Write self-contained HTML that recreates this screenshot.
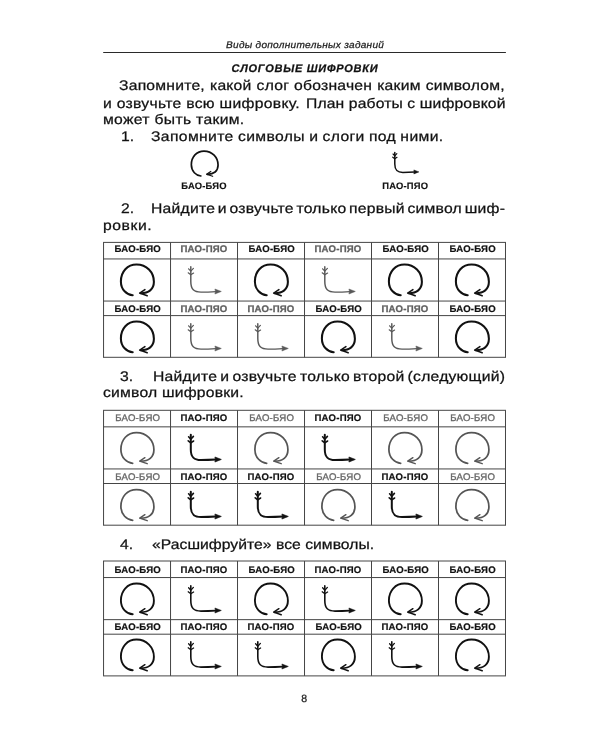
<!DOCTYPE html>
<html lang="ru"><head><meta charset="utf-8"><title>p8</title>
<style>
html,body{margin:0;padding:0;background:#fff}
body{width:600px;height:750px;position:relative;overflow:hidden;font-family:"Liberation Sans", sans-serif;filter:grayscale(1);text-rendering:geometricPrecision}
.t{position:absolute;white-space:nowrap;line-height:1em;transform-origin:0 0;-webkit-text-stroke:0.25px currentColor}
.lb{position:absolute;white-space:nowrap;line-height:1em;text-align:center;letter-spacing:0.20px}
.grid{position:absolute;left:0;top:0}
.ln{position:absolute;background:#454545}
.ic{position:absolute;overflow:visible}
</style></head><body>
<div class="t" id="t0" style="left:225.60px;top:41.37px;font-size:9.60px;font-style:italic;font-weight:normal;color:#222;letter-spacing:0.271px;word-spacing:0.000px;transform:scaleX(1.0500)">Виды дополнительных заданий</div>
<div class="t" id="t1" style="left:231.60px;top:63.69px;font-size:11.00px;font-style:italic;font-weight:bold;color:#111;letter-spacing:0.733px;word-spacing:0.000px;transform:scaleX(1.0000)">СЛОГОВЫЕ ШИФРОВКИ</div>
<div class="t" id="t2" style="left:119.00px;top:78.73px;font-size:13.90px;font-style:normal;font-weight:normal;color:#111;letter-spacing:0.191px;word-spacing:0.409px;transform:scaleX(1.1300)">Запомните, какой слог обозначен каким символом,</div>
<div class="t" id="t3" style="left:102.90px;top:97.03px;font-size:13.90px;font-style:normal;font-weight:normal;color:#111;letter-spacing:0.264px;word-spacing:0.000px;transform:scaleX(1.1300)">и озвучьте всю шифровку.</div>
<div class="t" id="t4" style="left:102.90px;top:112.73px;font-size:13.90px;font-style:normal;font-weight:normal;color:#111;letter-spacing:0.281px;word-spacing:0.000px;transform:scaleX(1.1300)">может быть таким.</div>
<div class="t" id="t5" style="left:120.79px;top:130.23px;font-size:13.90px;font-style:normal;font-weight:normal;color:#111;letter-spacing:0.000px;word-spacing:0.000px;transform:scaleX(1.1300)">1.</div>
<div class="t" id="t6" style="left:151.40px;top:130.23px;font-size:13.90px;font-style:normal;font-weight:normal;color:#111;letter-spacing:0.323px;word-spacing:-0.427px;transform:scaleX(1.1300)">Запомните символы и слоги под ними.</div>
<div class="t" id="t7" style="left:120.60px;top:202.43px;font-size:13.90px;font-style:normal;font-weight:normal;color:#111;letter-spacing:0.000px;word-spacing:0.000px;transform:scaleX(1.1300)">2.</div>
<div class="t" id="t8" style="left:151.34px;top:202.43px;font-size:13.90px;font-style:normal;font-weight:normal;color:#111;letter-spacing:0.200px;word-spacing:-1.653px;transform:scaleX(1.1300)">Найдите и озвучьте только первый символ шиф-</div>
<div class="t" id="t9" style="left:102.99px;top:219.23px;font-size:13.90px;font-style:normal;font-weight:normal;color:#111;letter-spacing:0.490px;word-spacing:0.000px;transform:scaleX(1.1300)">ровки.</div>
<div class="t" id="t10" style="left:120.00px;top:369.83px;font-size:13.90px;font-style:normal;font-weight:normal;color:#111;letter-spacing:0.000px;word-spacing:0.000px;transform:scaleX(1.1300)">3.</div>
<div class="t" id="t11" style="left:152.54px;top:369.83px;font-size:13.90px;font-style:normal;font-weight:normal;color:#111;letter-spacing:0.200px;word-spacing:-1.213px;transform:scaleX(1.1300)">Найдите и озвучьте только второй (следующий)</div>
<div class="t" id="t12" style="left:103.46px;top:385.73px;font-size:13.90px;font-style:normal;font-weight:normal;color:#111;letter-spacing:0.179px;word-spacing:0.000px;transform:scaleX(1.1300)">символ шифровки.</div>
<div class="t" id="t13" style="left:120.24px;top:538.13px;font-size:13.90px;font-style:normal;font-weight:normal;color:#111;letter-spacing:0.000px;word-spacing:0.000px;transform:scaleX(1.1300)">4.</div>
<div class="t" id="t14" style="left:151.60px;top:538.13px;font-size:13.90px;font-style:normal;font-weight:normal;color:#111;letter-spacing:0.027px;word-spacing:0.000px;transform:scaleX(1.1300)">«Расшифруйте» все символы.</div>
<div class="t" id="t15" style="left:301.30px;top:693.91px;font-size:10.50px;font-style:normal;font-weight:normal;color:#222;letter-spacing:0.000px;word-spacing:0.000px;transform:scaleX(1.0000)">8</div>
<div class="t" id="t16" style="left:305.75px;top:97.03px;font-size:13.90px;font-style:normal;font-weight:normal;color:#111;letter-spacing:0.110px;word-spacing:0.000px;transform:scaleX(1.1300)">План работы с шифровкой</div>
<svg class="grid" width="600" height="750" viewBox="0 0 600 750"><line x1="103.2" y1="52.4" x2="505.9" y2="52.4" stroke="#2a2a2a" stroke-width="1.05"/></svg>
<svg class="ic" style="left:188.98px;top:149.38px" width="32.4" height="30.8" viewBox="-2 -2 40 38"><g fill="none" stroke="#111" stroke-width="2.10" stroke-linecap="round" stroke-linejoin="round"><path d="M12.7,31.3 C6.8,30.9 0.9,25.6 0.9,17.4 C0.9,7.6 7.5,0.5 16.5,0.5 C26.6,0.5 33.9,8.2 33.9,17.8 C33.9,25.4 28.6,29.3 20.6,29.2"/><path d="M24.9,25.7 L19.7,29.1 L27.2,31.7" stroke-width="1.48"/></g></svg>
<svg class="ic" style="left:390.92px;top:150.52px" width="30.0" height="25.3" viewBox="-2 -2 38 32"><g fill="none" stroke="#111" stroke-width="1.90" stroke-linecap="round" stroke-linejoin="round"><path d="M2.8,-0.2 L2.8,14.5 C2.8,22.5 6,25.1 13,25.1 C18,25.1 23,24.9 28,24.6"/><path d="M0.6,1.8 L2.8,4.2 L5.4,1.4" stroke-width="1.52"/><path d="M0.2,5.8 L2.8,7.8 L5.6,6.0" stroke-width="1.52"/></g><path d="M33.3,24.45 L26.9,22.0 L27.5,24.5 L26.9,27.0 Z" fill="#111" stroke="#111" stroke-width="0.66" stroke-linejoin="round"/></svg>
<div class="lb" id="lg1" style="left:160.5px;top:181.24px;width:87px;font-size:9.4px;font-weight:bold;color:#111;-webkit-text-stroke:0.15px #111">БАО-БЯО</div>
<div class="lb" id="lg2" style="left:361.7px;top:181.24px;width:87px;font-size:9.4px;font-weight:bold;color:#111;-webkit-text-stroke:0.15px #111">ПАО-ПЯО</div>
<svg class="grid" width="600" height="750" viewBox="0 0 600 750"><g stroke="#454545" stroke-width="1.00" fill="none"><line x1="103.05" y1="242.40" x2="505.99" y2="242.40"/><line x1="103.05" y1="258.95" x2="505.99" y2="258.95"/><line x1="103.05" y1="301.05" x2="505.99" y2="301.05"/><line x1="103.05" y1="315.60" x2="505.99" y2="315.60"/><line x1="103.05" y1="357.30" x2="505.99" y2="357.30"/><line x1="103.55" y1="242.40" x2="103.55" y2="357.30"/><line x1="170.54" y1="242.40" x2="170.54" y2="357.30"/><line x1="237.53" y1="242.40" x2="237.53" y2="357.30"/><line x1="304.52" y1="242.40" x2="304.52" y2="357.30"/><line x1="371.51" y1="242.40" x2="371.51" y2="357.30"/><line x1="438.50" y1="242.40" x2="438.50" y2="357.30"/><line x1="505.49" y1="242.40" x2="505.49" y2="357.30"/></g></svg>
<div class="lb" style="left:104.25px;top:244.62px;width:66.99px;font-size:9.60px;color:#111;font-weight:bold;-webkit-text-stroke:0.20px #111">БАО-БЯО</div>
<svg class="ic" style="left:118.24px;top:262.30px" width="40.0" height="38.0" viewBox="-2 -2 40 38"><g fill="none" stroke="#111" stroke-width="2.05" stroke-linecap="round" stroke-linejoin="round"><path d="M12.7,31.3 C6.8,30.9 0.9,25.6 0.9,17.4 C0.9,7.6 7.5,0.5 16.5,0.5 C26.6,0.5 33.9,8.2 33.9,17.8 C33.9,25.4 28.6,29.3 20.6,29.2"/><path d="M24.9,25.7 L19.7,29.1 L27.2,31.7" stroke-width="1.60"/></g></svg>
<div class="lb" style="left:170.54px;top:244.62px;width:66.99px;font-size:9.60px;color:#606060;font-weight:bold;-webkit-text-stroke:0.30px #606060">ПАО-ПЯО</div>
<svg class="ic" style="left:185.63px;top:265.30px" width="38.0" height="32.0" viewBox="-2 -2 38 32"><g fill="none" stroke="#585858" stroke-width="1.45" stroke-linecap="round" stroke-linejoin="round"><path d="M2.8,-0.2 L2.8,14.5 C2.8,22.5 6,25.1 13,25.1 C18,25.1 23,24.9 28,24.6"/><path d="M0.6,1.8 L2.8,4.2 L5.4,1.4" stroke-width="1.16"/><path d="M0.2,5.8 L2.8,7.8 L5.6,6.0" stroke-width="1.16"/></g><path d="M33.3,24.45 L26.9,22.0 L27.5,24.5 L26.9,27.0 Z" fill="#585858" stroke="#585858" stroke-width="0.51" stroke-linejoin="round"/></svg>
<div class="lb" style="left:238.23px;top:244.62px;width:66.99px;font-size:9.60px;color:#111;font-weight:bold;-webkit-text-stroke:0.20px #111">БАО-БЯО</div>
<svg class="ic" style="left:252.22px;top:262.30px" width="40.0" height="38.0" viewBox="-2 -2 40 38"><g fill="none" stroke="#111" stroke-width="2.05" stroke-linecap="round" stroke-linejoin="round"><path d="M12.7,31.3 C6.8,30.9 0.9,25.6 0.9,17.4 C0.9,7.6 7.5,0.5 16.5,0.5 C26.6,0.5 33.9,8.2 33.9,17.8 C33.9,25.4 28.6,29.3 20.6,29.2"/><path d="M24.9,25.7 L19.7,29.1 L27.2,31.7" stroke-width="1.60"/></g></svg>
<div class="lb" style="left:304.52px;top:244.62px;width:66.99px;font-size:9.60px;color:#606060;font-weight:bold;-webkit-text-stroke:0.30px #606060">ПАО-ПЯО</div>
<svg class="ic" style="left:319.62px;top:265.30px" width="38.0" height="32.0" viewBox="-2 -2 38 32"><g fill="none" stroke="#585858" stroke-width="1.45" stroke-linecap="round" stroke-linejoin="round"><path d="M2.8,-0.2 L2.8,14.5 C2.8,22.5 6,25.1 13,25.1 C18,25.1 23,24.9 28,24.6"/><path d="M0.6,1.8 L2.8,4.2 L5.4,1.4" stroke-width="1.16"/><path d="M0.2,5.8 L2.8,7.8 L5.6,6.0" stroke-width="1.16"/></g><path d="M33.3,24.45 L26.9,22.0 L27.5,24.5 L26.9,27.0 Z" fill="#585858" stroke="#585858" stroke-width="0.51" stroke-linejoin="round"/></svg>
<div class="lb" style="left:372.21px;top:244.62px;width:66.99px;font-size:9.60px;color:#111;font-weight:bold;-webkit-text-stroke:0.20px #111">БАО-БЯО</div>
<svg class="ic" style="left:386.20px;top:262.30px" width="40.0" height="38.0" viewBox="-2 -2 40 38"><g fill="none" stroke="#111" stroke-width="2.05" stroke-linecap="round" stroke-linejoin="round"><path d="M12.7,31.3 C6.8,30.9 0.9,25.6 0.9,17.4 C0.9,7.6 7.5,0.5 16.5,0.5 C26.6,0.5 33.9,8.2 33.9,17.8 C33.9,25.4 28.6,29.3 20.6,29.2"/><path d="M24.9,25.7 L19.7,29.1 L27.2,31.7" stroke-width="1.60"/></g></svg>
<div class="lb" style="left:439.20px;top:244.62px;width:66.99px;font-size:9.60px;color:#111;font-weight:bold;-webkit-text-stroke:0.20px #111">БАО-БЯО</div>
<svg class="ic" style="left:453.19px;top:262.30px" width="40.0" height="38.0" viewBox="-2 -2 40 38"><g fill="none" stroke="#111" stroke-width="2.05" stroke-linecap="round" stroke-linejoin="round"><path d="M12.7,31.3 C6.8,30.9 0.9,25.6 0.9,17.4 C0.9,7.6 7.5,0.5 16.5,0.5 C26.6,0.5 33.9,8.2 33.9,17.8 C33.9,25.4 28.6,29.3 20.6,29.2"/><path d="M24.9,25.7 L19.7,29.1 L27.2,31.7" stroke-width="1.60"/></g></svg>
<div class="lb" style="left:104.25px;top:304.62px;width:66.99px;font-size:9.60px;color:#111;font-weight:bold;-webkit-text-stroke:0.20px #111">БАО-БЯО</div>
<svg class="ic" style="left:118.24px;top:318.75px" width="40.0" height="38.0" viewBox="-2 -2 40 38"><g fill="none" stroke="#111" stroke-width="2.05" stroke-linecap="round" stroke-linejoin="round"><path d="M12.7,31.3 C6.8,30.9 0.9,25.6 0.9,17.4 C0.9,7.6 7.5,0.5 16.5,0.5 C26.6,0.5 33.9,8.2 33.9,17.8 C33.9,25.4 28.6,29.3 20.6,29.2"/><path d="M24.9,25.7 L19.7,29.1 L27.2,31.7" stroke-width="1.60"/></g></svg>
<div class="lb" style="left:170.54px;top:304.62px;width:66.99px;font-size:9.60px;color:#606060;font-weight:bold;-webkit-text-stroke:0.30px #606060">ПАО-ПЯО</div>
<svg class="ic" style="left:185.63px;top:321.75px" width="38.0" height="32.0" viewBox="-2 -2 38 32"><g fill="none" stroke="#585858" stroke-width="1.45" stroke-linecap="round" stroke-linejoin="round"><path d="M2.8,-0.2 L2.8,14.5 C2.8,22.5 6,25.1 13,25.1 C18,25.1 23,24.9 28,24.6"/><path d="M0.6,1.8 L2.8,4.2 L5.4,1.4" stroke-width="1.16"/><path d="M0.2,5.8 L2.8,7.8 L5.6,6.0" stroke-width="1.16"/></g><path d="M33.3,24.45 L26.9,22.0 L27.5,24.5 L26.9,27.0 Z" fill="#585858" stroke="#585858" stroke-width="0.51" stroke-linejoin="round"/></svg>
<div class="lb" style="left:237.53px;top:304.62px;width:66.99px;font-size:9.60px;color:#606060;font-weight:bold;-webkit-text-stroke:0.30px #606060">ПАО-ПЯО</div>
<svg class="ic" style="left:252.62px;top:321.75px" width="38.0" height="32.0" viewBox="-2 -2 38 32"><g fill="none" stroke="#585858" stroke-width="1.45" stroke-linecap="round" stroke-linejoin="round"><path d="M2.8,-0.2 L2.8,14.5 C2.8,22.5 6,25.1 13,25.1 C18,25.1 23,24.9 28,24.6"/><path d="M0.6,1.8 L2.8,4.2 L5.4,1.4" stroke-width="1.16"/><path d="M0.2,5.8 L2.8,7.8 L5.6,6.0" stroke-width="1.16"/></g><path d="M33.3,24.45 L26.9,22.0 L27.5,24.5 L26.9,27.0 Z" fill="#585858" stroke="#585858" stroke-width="0.51" stroke-linejoin="round"/></svg>
<div class="lb" style="left:305.22px;top:304.62px;width:66.99px;font-size:9.60px;color:#111;font-weight:bold;-webkit-text-stroke:0.20px #111">БАО-БЯО</div>
<svg class="ic" style="left:319.21px;top:318.75px" width="40.0" height="38.0" viewBox="-2 -2 40 38"><g fill="none" stroke="#111" stroke-width="2.05" stroke-linecap="round" stroke-linejoin="round"><path d="M12.7,31.3 C6.8,30.9 0.9,25.6 0.9,17.4 C0.9,7.6 7.5,0.5 16.5,0.5 C26.6,0.5 33.9,8.2 33.9,17.8 C33.9,25.4 28.6,29.3 20.6,29.2"/><path d="M24.9,25.7 L19.7,29.1 L27.2,31.7" stroke-width="1.60"/></g></svg>
<div class="lb" style="left:371.51px;top:304.62px;width:66.99px;font-size:9.60px;color:#606060;font-weight:bold;-webkit-text-stroke:0.30px #606060">ПАО-ПЯО</div>
<svg class="ic" style="left:386.61px;top:321.75px" width="38.0" height="32.0" viewBox="-2 -2 38 32"><g fill="none" stroke="#585858" stroke-width="1.45" stroke-linecap="round" stroke-linejoin="round"><path d="M2.8,-0.2 L2.8,14.5 C2.8,22.5 6,25.1 13,25.1 C18,25.1 23,24.9 28,24.6"/><path d="M0.6,1.8 L2.8,4.2 L5.4,1.4" stroke-width="1.16"/><path d="M0.2,5.8 L2.8,7.8 L5.6,6.0" stroke-width="1.16"/></g><path d="M33.3,24.45 L26.9,22.0 L27.5,24.5 L26.9,27.0 Z" fill="#585858" stroke="#585858" stroke-width="0.51" stroke-linejoin="round"/></svg>
<div class="lb" style="left:439.20px;top:304.62px;width:66.99px;font-size:9.60px;color:#111;font-weight:bold;-webkit-text-stroke:0.20px #111">БАО-БЯО</div>
<svg class="ic" style="left:453.19px;top:318.75px" width="40.0" height="38.0" viewBox="-2 -2 40 38"><g fill="none" stroke="#111" stroke-width="2.05" stroke-linecap="round" stroke-linejoin="round"><path d="M12.7,31.3 C6.8,30.9 0.9,25.6 0.9,17.4 C0.9,7.6 7.5,0.5 16.5,0.5 C26.6,0.5 33.9,8.2 33.9,17.8 C33.9,25.4 28.6,29.3 20.6,29.2"/><path d="M24.9,25.7 L19.7,29.1 L27.2,31.7" stroke-width="1.60"/></g></svg>
<svg class="grid" width="600" height="750" viewBox="0 0 600 750"><g stroke="#454545" stroke-width="1.00" fill="none"><line x1="103.05" y1="410.30" x2="505.99" y2="410.30"/><line x1="103.05" y1="426.85" x2="505.99" y2="426.85"/><line x1="103.05" y1="468.95" x2="505.99" y2="468.95"/><line x1="103.05" y1="483.50" x2="505.99" y2="483.50"/><line x1="103.05" y1="525.20" x2="505.99" y2="525.20"/><line x1="103.55" y1="410.30" x2="103.55" y2="525.20"/><line x1="170.54" y1="410.30" x2="170.54" y2="525.20"/><line x1="237.53" y1="410.30" x2="237.53" y2="525.20"/><line x1="304.52" y1="410.30" x2="304.52" y2="525.20"/><line x1="371.51" y1="410.30" x2="371.51" y2="525.20"/><line x1="438.50" y1="410.30" x2="438.50" y2="525.20"/><line x1="505.49" y1="410.30" x2="505.49" y2="525.20"/></g></svg>
<div class="lb" style="left:104.25px;top:413.62px;width:66.99px;font-size:9.60px;color:#686868;font-weight:normal;-webkit-text-stroke:0.35px #686868">БАО-БЯО</div>
<svg class="ic" style="left:118.24px;top:430.20px" width="40.0" height="38.0" viewBox="-2 -2 40 38"><g fill="none" stroke="#555" stroke-width="1.75" stroke-linecap="round" stroke-linejoin="round"><path d="M12.7,31.3 C6.8,30.9 0.9,25.6 0.9,17.4 C0.9,7.6 7.5,0.5 16.5,0.5 C26.6,0.5 33.9,8.2 33.9,17.8 C33.9,25.4 28.6,29.3 20.6,29.2"/><path d="M24.9,25.7 L19.7,29.1 L27.2,31.7" stroke-width="1.40"/></g></svg>
<div class="lb" style="left:170.54px;top:413.62px;width:66.99px;font-size:9.60px;color:#111;font-weight:bold;-webkit-text-stroke:0.20px #111">ПАО-ПЯО</div>
<svg class="ic" style="left:185.63px;top:433.20px" width="38.0" height="32.0" viewBox="-2 -2 38 32"><g fill="none" stroke="#111" stroke-width="2.00" stroke-linecap="round" stroke-linejoin="round"><path d="M2.8,-0.2 L2.8,14.5 C2.8,22.5 6,25.1 13,25.1 C18,25.1 23,24.9 28,24.6"/><path d="M0.6,1.8 L2.8,4.2 L5.4,1.4" stroke-width="1.60"/><path d="M0.2,5.8 L2.8,7.8 L5.6,6.0" stroke-width="1.60"/></g><path d="M33.3,24.45 L26.9,22.0 L27.5,24.5 L26.9,27.0 Z" fill="#111" stroke="#111" stroke-width="0.70" stroke-linejoin="round"/></svg>
<div class="lb" style="left:238.23px;top:413.62px;width:66.99px;font-size:9.60px;color:#686868;font-weight:normal;-webkit-text-stroke:0.35px #686868">БАО-БЯО</div>
<svg class="ic" style="left:252.22px;top:430.20px" width="40.0" height="38.0" viewBox="-2 -2 40 38"><g fill="none" stroke="#555" stroke-width="1.75" stroke-linecap="round" stroke-linejoin="round"><path d="M12.7,31.3 C6.8,30.9 0.9,25.6 0.9,17.4 C0.9,7.6 7.5,0.5 16.5,0.5 C26.6,0.5 33.9,8.2 33.9,17.8 C33.9,25.4 28.6,29.3 20.6,29.2"/><path d="M24.9,25.7 L19.7,29.1 L27.2,31.7" stroke-width="1.40"/></g></svg>
<div class="lb" style="left:304.52px;top:413.62px;width:66.99px;font-size:9.60px;color:#111;font-weight:bold;-webkit-text-stroke:0.20px #111">ПАО-ПЯО</div>
<svg class="ic" style="left:319.62px;top:433.20px" width="38.0" height="32.0" viewBox="-2 -2 38 32"><g fill="none" stroke="#111" stroke-width="2.00" stroke-linecap="round" stroke-linejoin="round"><path d="M2.8,-0.2 L2.8,14.5 C2.8,22.5 6,25.1 13,25.1 C18,25.1 23,24.9 28,24.6"/><path d="M0.6,1.8 L2.8,4.2 L5.4,1.4" stroke-width="1.60"/><path d="M0.2,5.8 L2.8,7.8 L5.6,6.0" stroke-width="1.60"/></g><path d="M33.3,24.45 L26.9,22.0 L27.5,24.5 L26.9,27.0 Z" fill="#111" stroke="#111" stroke-width="0.70" stroke-linejoin="round"/></svg>
<div class="lb" style="left:372.21px;top:413.62px;width:66.99px;font-size:9.60px;color:#686868;font-weight:normal;-webkit-text-stroke:0.35px #686868">БАО-БЯО</div>
<svg class="ic" style="left:386.20px;top:430.20px" width="40.0" height="38.0" viewBox="-2 -2 40 38"><g fill="none" stroke="#555" stroke-width="1.75" stroke-linecap="round" stroke-linejoin="round"><path d="M12.7,31.3 C6.8,30.9 0.9,25.6 0.9,17.4 C0.9,7.6 7.5,0.5 16.5,0.5 C26.6,0.5 33.9,8.2 33.9,17.8 C33.9,25.4 28.6,29.3 20.6,29.2"/><path d="M24.9,25.7 L19.7,29.1 L27.2,31.7" stroke-width="1.40"/></g></svg>
<div class="lb" style="left:439.20px;top:413.62px;width:66.99px;font-size:9.60px;color:#686868;font-weight:normal;-webkit-text-stroke:0.35px #686868">БАО-БЯО</div>
<svg class="ic" style="left:453.19px;top:430.20px" width="40.0" height="38.0" viewBox="-2 -2 40 38"><g fill="none" stroke="#555" stroke-width="1.75" stroke-linecap="round" stroke-linejoin="round"><path d="M12.7,31.3 C6.8,30.9 0.9,25.6 0.9,17.4 C0.9,7.6 7.5,0.5 16.5,0.5 C26.6,0.5 33.9,8.2 33.9,17.8 C33.9,25.4 28.6,29.3 20.6,29.2"/><path d="M24.9,25.7 L19.7,29.1 L27.2,31.7" stroke-width="1.40"/></g></svg>
<div class="lb" style="left:104.25px;top:472.62px;width:66.99px;font-size:9.60px;color:#686868;font-weight:normal;-webkit-text-stroke:0.35px #686868">БАО-БЯО</div>
<svg class="ic" style="left:118.24px;top:486.65px" width="40.0" height="38.0" viewBox="-2 -2 40 38"><g fill="none" stroke="#555" stroke-width="1.75" stroke-linecap="round" stroke-linejoin="round"><path d="M12.7,31.3 C6.8,30.9 0.9,25.6 0.9,17.4 C0.9,7.6 7.5,0.5 16.5,0.5 C26.6,0.5 33.9,8.2 33.9,17.8 C33.9,25.4 28.6,29.3 20.6,29.2"/><path d="M24.9,25.7 L19.7,29.1 L27.2,31.7" stroke-width="1.40"/></g></svg>
<div class="lb" style="left:170.54px;top:472.62px;width:66.99px;font-size:9.60px;color:#111;font-weight:bold;-webkit-text-stroke:0.20px #111">ПАО-ПЯО</div>
<svg class="ic" style="left:185.63px;top:489.65px" width="38.0" height="32.0" viewBox="-2 -2 38 32"><g fill="none" stroke="#111" stroke-width="2.00" stroke-linecap="round" stroke-linejoin="round"><path d="M2.8,-0.2 L2.8,14.5 C2.8,22.5 6,25.1 13,25.1 C18,25.1 23,24.9 28,24.6"/><path d="M0.6,1.8 L2.8,4.2 L5.4,1.4" stroke-width="1.60"/><path d="M0.2,5.8 L2.8,7.8 L5.6,6.0" stroke-width="1.60"/></g><path d="M33.3,24.45 L26.9,22.0 L27.5,24.5 L26.9,27.0 Z" fill="#111" stroke="#111" stroke-width="0.70" stroke-linejoin="round"/></svg>
<div class="lb" style="left:237.53px;top:472.62px;width:66.99px;font-size:9.60px;color:#111;font-weight:bold;-webkit-text-stroke:0.20px #111">ПАО-ПЯО</div>
<svg class="ic" style="left:252.62px;top:489.65px" width="38.0" height="32.0" viewBox="-2 -2 38 32"><g fill="none" stroke="#111" stroke-width="2.00" stroke-linecap="round" stroke-linejoin="round"><path d="M2.8,-0.2 L2.8,14.5 C2.8,22.5 6,25.1 13,25.1 C18,25.1 23,24.9 28,24.6"/><path d="M0.6,1.8 L2.8,4.2 L5.4,1.4" stroke-width="1.60"/><path d="M0.2,5.8 L2.8,7.8 L5.6,6.0" stroke-width="1.60"/></g><path d="M33.3,24.45 L26.9,22.0 L27.5,24.5 L26.9,27.0 Z" fill="#111" stroke="#111" stroke-width="0.70" stroke-linejoin="round"/></svg>
<div class="lb" style="left:305.22px;top:472.62px;width:66.99px;font-size:9.60px;color:#686868;font-weight:normal;-webkit-text-stroke:0.35px #686868">БАО-БЯО</div>
<svg class="ic" style="left:319.21px;top:486.65px" width="40.0" height="38.0" viewBox="-2 -2 40 38"><g fill="none" stroke="#555" stroke-width="1.75" stroke-linecap="round" stroke-linejoin="round"><path d="M12.7,31.3 C6.8,30.9 0.9,25.6 0.9,17.4 C0.9,7.6 7.5,0.5 16.5,0.5 C26.6,0.5 33.9,8.2 33.9,17.8 C33.9,25.4 28.6,29.3 20.6,29.2"/><path d="M24.9,25.7 L19.7,29.1 L27.2,31.7" stroke-width="1.40"/></g></svg>
<div class="lb" style="left:371.51px;top:472.62px;width:66.99px;font-size:9.60px;color:#111;font-weight:bold;-webkit-text-stroke:0.20px #111">ПАО-ПЯО</div>
<svg class="ic" style="left:386.61px;top:489.65px" width="38.0" height="32.0" viewBox="-2 -2 38 32"><g fill="none" stroke="#111" stroke-width="2.00" stroke-linecap="round" stroke-linejoin="round"><path d="M2.8,-0.2 L2.8,14.5 C2.8,22.5 6,25.1 13,25.1 C18,25.1 23,24.9 28,24.6"/><path d="M0.6,1.8 L2.8,4.2 L5.4,1.4" stroke-width="1.60"/><path d="M0.2,5.8 L2.8,7.8 L5.6,6.0" stroke-width="1.60"/></g><path d="M33.3,24.45 L26.9,22.0 L27.5,24.5 L26.9,27.0 Z" fill="#111" stroke="#111" stroke-width="0.70" stroke-linejoin="round"/></svg>
<div class="lb" style="left:439.20px;top:472.62px;width:66.99px;font-size:9.60px;color:#686868;font-weight:normal;-webkit-text-stroke:0.35px #686868">БАО-БЯО</div>
<svg class="ic" style="left:453.19px;top:486.65px" width="40.0" height="38.0" viewBox="-2 -2 40 38"><g fill="none" stroke="#555" stroke-width="1.75" stroke-linecap="round" stroke-linejoin="round"><path d="M12.7,31.3 C6.8,30.9 0.9,25.6 0.9,17.4 C0.9,7.6 7.5,0.5 16.5,0.5 C26.6,0.5 33.9,8.2 33.9,17.8 C33.9,25.4 28.6,29.3 20.6,29.2"/><path d="M24.9,25.7 L19.7,29.1 L27.2,31.7" stroke-width="1.40"/></g></svg>
<svg class="grid" width="600" height="750" viewBox="0 0 600 750"><g stroke="#454545" stroke-width="1.00" fill="none"><line x1="103.05" y1="561.00" x2="505.99" y2="561.00"/><line x1="103.05" y1="577.55" x2="505.99" y2="577.55"/><line x1="103.05" y1="619.65" x2="505.99" y2="619.65"/><line x1="103.05" y1="634.20" x2="505.99" y2="634.20"/><line x1="103.05" y1="675.90" x2="505.99" y2="675.90"/><line x1="103.55" y1="561.00" x2="103.55" y2="675.90"/><line x1="170.54" y1="561.00" x2="170.54" y2="675.90"/><line x1="237.53" y1="561.00" x2="237.53" y2="675.90"/><line x1="304.52" y1="561.00" x2="304.52" y2="675.90"/><line x1="371.51" y1="561.00" x2="371.51" y2="675.90"/><line x1="438.50" y1="561.00" x2="438.50" y2="675.90"/><line x1="505.49" y1="561.00" x2="505.49" y2="675.90"/></g></svg>
<div class="lb" style="left:104.25px;top:565.62px;width:66.99px;font-size:9.60px;color:#111;font-weight:bold;-webkit-text-stroke:0.20px #111">БАО-БЯО</div>
<svg class="ic" style="left:118.24px;top:580.90px" width="40.0" height="38.0" viewBox="-2 -2 40 38"><g fill="none" stroke="#111" stroke-width="1.90" stroke-linecap="round" stroke-linejoin="round"><path d="M12.7,31.3 C6.8,30.9 0.9,25.6 0.9,17.4 C0.9,7.6 7.5,0.5 16.5,0.5 C26.6,0.5 33.9,8.2 33.9,17.8 C33.9,25.4 28.6,29.3 20.6,29.2"/><path d="M24.9,25.7 L19.7,29.1 L27.2,31.7" stroke-width="1.50"/></g></svg>
<div class="lb" style="left:170.54px;top:565.62px;width:66.99px;font-size:9.60px;color:#111;font-weight:bold;-webkit-text-stroke:0.20px #111">ПАО-ПЯО</div>
<svg class="ic" style="left:185.63px;top:583.90px" width="38.0" height="32.0" viewBox="-2 -2 38 32"><g fill="none" stroke="#111" stroke-width="1.60" stroke-linecap="round" stroke-linejoin="round"><path d="M2.8,-0.2 L2.8,14.5 C2.8,22.5 6,25.1 13,25.1 C18,25.1 23,24.9 28,24.6"/><path d="M0.6,1.8 L2.8,4.2 L5.4,1.4" stroke-width="1.28"/><path d="M0.2,5.8 L2.8,7.8 L5.6,6.0" stroke-width="1.28"/></g><path d="M33.3,24.45 L26.9,22.0 L27.5,24.5 L26.9,27.0 Z" fill="#111" stroke="#111" stroke-width="0.56" stroke-linejoin="round"/></svg>
<div class="lb" style="left:238.23px;top:565.62px;width:66.99px;font-size:9.60px;color:#111;font-weight:bold;-webkit-text-stroke:0.20px #111">БАО-БЯО</div>
<svg class="ic" style="left:252.22px;top:580.90px" width="40.0" height="38.0" viewBox="-2 -2 40 38"><g fill="none" stroke="#111" stroke-width="1.90" stroke-linecap="round" stroke-linejoin="round"><path d="M12.7,31.3 C6.8,30.9 0.9,25.6 0.9,17.4 C0.9,7.6 7.5,0.5 16.5,0.5 C26.6,0.5 33.9,8.2 33.9,17.8 C33.9,25.4 28.6,29.3 20.6,29.2"/><path d="M24.9,25.7 L19.7,29.1 L27.2,31.7" stroke-width="1.50"/></g></svg>
<div class="lb" style="left:304.52px;top:565.62px;width:66.99px;font-size:9.60px;color:#111;font-weight:bold;-webkit-text-stroke:0.20px #111">ПАО-ПЯО</div>
<svg class="ic" style="left:319.62px;top:583.90px" width="38.0" height="32.0" viewBox="-2 -2 38 32"><g fill="none" stroke="#111" stroke-width="1.60" stroke-linecap="round" stroke-linejoin="round"><path d="M2.8,-0.2 L2.8,14.5 C2.8,22.5 6,25.1 13,25.1 C18,25.1 23,24.9 28,24.6"/><path d="M0.6,1.8 L2.8,4.2 L5.4,1.4" stroke-width="1.28"/><path d="M0.2,5.8 L2.8,7.8 L5.6,6.0" stroke-width="1.28"/></g><path d="M33.3,24.45 L26.9,22.0 L27.5,24.5 L26.9,27.0 Z" fill="#111" stroke="#111" stroke-width="0.56" stroke-linejoin="round"/></svg>
<div class="lb" style="left:372.21px;top:565.62px;width:66.99px;font-size:9.60px;color:#111;font-weight:bold;-webkit-text-stroke:0.20px #111">БАО-БЯО</div>
<svg class="ic" style="left:386.20px;top:580.90px" width="40.0" height="38.0" viewBox="-2 -2 40 38"><g fill="none" stroke="#111" stroke-width="1.90" stroke-linecap="round" stroke-linejoin="round"><path d="M12.7,31.3 C6.8,30.9 0.9,25.6 0.9,17.4 C0.9,7.6 7.5,0.5 16.5,0.5 C26.6,0.5 33.9,8.2 33.9,17.8 C33.9,25.4 28.6,29.3 20.6,29.2"/><path d="M24.9,25.7 L19.7,29.1 L27.2,31.7" stroke-width="1.50"/></g></svg>
<div class="lb" style="left:439.20px;top:565.62px;width:66.99px;font-size:9.60px;color:#111;font-weight:bold;-webkit-text-stroke:0.20px #111">БАО-БЯО</div>
<svg class="ic" style="left:453.19px;top:580.90px" width="40.0" height="38.0" viewBox="-2 -2 40 38"><g fill="none" stroke="#111" stroke-width="1.90" stroke-linecap="round" stroke-linejoin="round"><path d="M12.7,31.3 C6.8,30.9 0.9,25.6 0.9,17.4 C0.9,7.6 7.5,0.5 16.5,0.5 C26.6,0.5 33.9,8.2 33.9,17.8 C33.9,25.4 28.6,29.3 20.6,29.2"/><path d="M24.9,25.7 L19.7,29.1 L27.2,31.7" stroke-width="1.50"/></g></svg>
<div class="lb" style="left:104.25px;top:622.62px;width:66.99px;font-size:9.60px;color:#111;font-weight:bold;-webkit-text-stroke:0.20px #111">БАО-БЯО</div>
<svg class="ic" style="left:118.24px;top:637.35px" width="40.0" height="38.0" viewBox="-2 -2 40 38"><g fill="none" stroke="#111" stroke-width="1.90" stroke-linecap="round" stroke-linejoin="round"><path d="M12.7,31.3 C6.8,30.9 0.9,25.6 0.9,17.4 C0.9,7.6 7.5,0.5 16.5,0.5 C26.6,0.5 33.9,8.2 33.9,17.8 C33.9,25.4 28.6,29.3 20.6,29.2"/><path d="M24.9,25.7 L19.7,29.1 L27.2,31.7" stroke-width="1.50"/></g></svg>
<div class="lb" style="left:170.54px;top:622.62px;width:66.99px;font-size:9.60px;color:#111;font-weight:bold;-webkit-text-stroke:0.20px #111">ПАО-ПЯО</div>
<svg class="ic" style="left:185.63px;top:640.35px" width="38.0" height="32.0" viewBox="-2 -2 38 32"><g fill="none" stroke="#111" stroke-width="1.60" stroke-linecap="round" stroke-linejoin="round"><path d="M2.8,-0.2 L2.8,14.5 C2.8,22.5 6,25.1 13,25.1 C18,25.1 23,24.9 28,24.6"/><path d="M0.6,1.8 L2.8,4.2 L5.4,1.4" stroke-width="1.28"/><path d="M0.2,5.8 L2.8,7.8 L5.6,6.0" stroke-width="1.28"/></g><path d="M33.3,24.45 L26.9,22.0 L27.5,24.5 L26.9,27.0 Z" fill="#111" stroke="#111" stroke-width="0.56" stroke-linejoin="round"/></svg>
<div class="lb" style="left:237.53px;top:622.62px;width:66.99px;font-size:9.60px;color:#111;font-weight:bold;-webkit-text-stroke:0.20px #111">ПАО-ПЯО</div>
<svg class="ic" style="left:252.62px;top:640.35px" width="38.0" height="32.0" viewBox="-2 -2 38 32"><g fill="none" stroke="#111" stroke-width="1.60" stroke-linecap="round" stroke-linejoin="round"><path d="M2.8,-0.2 L2.8,14.5 C2.8,22.5 6,25.1 13,25.1 C18,25.1 23,24.9 28,24.6"/><path d="M0.6,1.8 L2.8,4.2 L5.4,1.4" stroke-width="1.28"/><path d="M0.2,5.8 L2.8,7.8 L5.6,6.0" stroke-width="1.28"/></g><path d="M33.3,24.45 L26.9,22.0 L27.5,24.5 L26.9,27.0 Z" fill="#111" stroke="#111" stroke-width="0.56" stroke-linejoin="round"/></svg>
<div class="lb" style="left:305.22px;top:622.62px;width:66.99px;font-size:9.60px;color:#111;font-weight:bold;-webkit-text-stroke:0.20px #111">БАО-БЯО</div>
<svg class="ic" style="left:319.21px;top:637.35px" width="40.0" height="38.0" viewBox="-2 -2 40 38"><g fill="none" stroke="#111" stroke-width="1.90" stroke-linecap="round" stroke-linejoin="round"><path d="M12.7,31.3 C6.8,30.9 0.9,25.6 0.9,17.4 C0.9,7.6 7.5,0.5 16.5,0.5 C26.6,0.5 33.9,8.2 33.9,17.8 C33.9,25.4 28.6,29.3 20.6,29.2"/><path d="M24.9,25.7 L19.7,29.1 L27.2,31.7" stroke-width="1.50"/></g></svg>
<div class="lb" style="left:371.51px;top:622.62px;width:66.99px;font-size:9.60px;color:#111;font-weight:bold;-webkit-text-stroke:0.20px #111">ПАО-ПЯО</div>
<svg class="ic" style="left:386.61px;top:640.35px" width="38.0" height="32.0" viewBox="-2 -2 38 32"><g fill="none" stroke="#111" stroke-width="1.60" stroke-linecap="round" stroke-linejoin="round"><path d="M2.8,-0.2 L2.8,14.5 C2.8,22.5 6,25.1 13,25.1 C18,25.1 23,24.9 28,24.6"/><path d="M0.6,1.8 L2.8,4.2 L5.4,1.4" stroke-width="1.28"/><path d="M0.2,5.8 L2.8,7.8 L5.6,6.0" stroke-width="1.28"/></g><path d="M33.3,24.45 L26.9,22.0 L27.5,24.5 L26.9,27.0 Z" fill="#111" stroke="#111" stroke-width="0.56" stroke-linejoin="round"/></svg>
<div class="lb" style="left:439.20px;top:622.62px;width:66.99px;font-size:9.60px;color:#111;font-weight:bold;-webkit-text-stroke:0.20px #111">БАО-БЯО</div>
<svg class="ic" style="left:453.19px;top:637.35px" width="40.0" height="38.0" viewBox="-2 -2 40 38"><g fill="none" stroke="#111" stroke-width="1.90" stroke-linecap="round" stroke-linejoin="round"><path d="M12.7,31.3 C6.8,30.9 0.9,25.6 0.9,17.4 C0.9,7.6 7.5,0.5 16.5,0.5 C26.6,0.5 33.9,8.2 33.9,17.8 C33.9,25.4 28.6,29.3 20.6,29.2"/><path d="M24.9,25.7 L19.7,29.1 L27.2,31.7" stroke-width="1.50"/></g></svg>
</body></html>
